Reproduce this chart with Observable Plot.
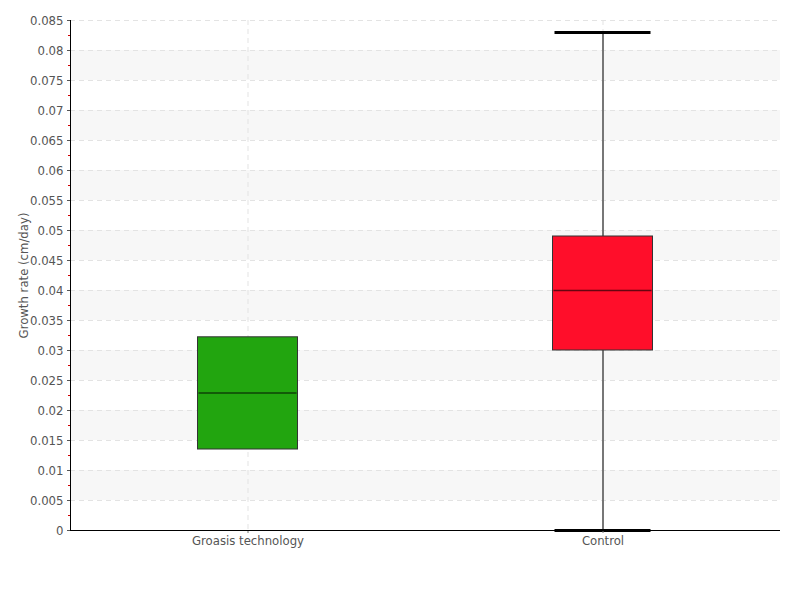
<!DOCTYPE html>
<html><head><meta charset="utf-8">
<script src="https://cdn.jsdelivr.net/npm/d3@7"></script>
<script src="https://cdn.jsdelivr.net/npm/@observablehq/plot@0.6"></script>
<style>
body{margin:0;background:#fff;}
svg{font-family:"DejaVu Sans Condensed","DejaVu Sans",sans-serif;}
</style></head>
<body><div id="chart"></div>
<script>
const categories = ["Groasis technology", "Control"];
const q1 = [0.0135, 0.030];
const median = [0.0229, 0.040];
const q3 = [0.0322, 0.049];
const whiskerLow = [null, 0];
const whiskerHigh = [null, 0.083];
const colors = ["#22a50f", "#ff0e2a"];
const yTicks = d3.range(0, 18).map(i => +(i * 0.005).toFixed(3));
const yMinor = d3.range(0, 17).map(i => +(i * 0.005 + 0.0025).toFixed(4));
const bandLows = [0.005, 0.015, 0.025, 0.035, 0.045, 0.055, 0.065, 0.075];

const boxes = categories.map((c, i) => ({c, q1: q1[i], med: median[i], q3: q3[i], lo: whiskerLow[i], hi: whiskerHigh[i], color: colors[i]}));
const whiskers = boxes.filter(d => d.lo != null);

const step = 710 / 2;
const boxInset = (step - 100) / 2;
const capInset = (step - 96) / 2;

const chart = Plot.plot({
  width: 800, height: 600,
  marginLeft: 70, marginRight: 20, marginTop: 20, marginBottom: 70,
  style: {fontSize: "13px", color: "#555", fontFamily: "'DejaVu Sans Condensed','DejaVu Sans',sans-serif"},
  x: {type: "band", domain: categories, padding: 0, label: null},
  y: {domain: [0, 0.085], label: null},
  color: {type: "identity"},
  marks: [
    Plot.rectY(bandLows, {y1: d => d, y2: d => +(d + 0.005).toFixed(3), fill: "#f7f7f7"}),
    Plot.ruleY(yTicks, {stroke: "#e3e3e3", strokeDasharray: "5,4"}),
    Plot.ruleX(categories, {x: d => d, stroke: "#e3e3e3", strokeDasharray: "5,4"}),
    Plot.ruleX(whiskers, {x: "c", y1: "lo", y2: "hi", stroke: "#777", strokeWidth: 2}),
    Plot.tickY(whiskers, {x: "c", y: "hi", stroke: "black", strokeWidth: 3, inset: capInset}),
    Plot.tickY(whiskers, {x: "c", y: "lo", stroke: "black", strokeWidth: 3, inset: capInset}),
    Plot.barY(boxes, {x: "c", y1: "q1", y2: "q3", fill: d => d.color, stroke: "#333", strokeWidth: 1, insetLeft: boxInset, insetRight: boxInset}),
    Plot.tickY(boxes, {x: "c", y: "med", stroke: "black", strokeOpacity: 0.6, strokeWidth: 1.5, inset: boxInset + 1}),
    Plot.axisY(yMinor, {tickSize: 2, stroke: "#d00000", tickFormat: () => "", label: null}),
    Plot.axisY(yTicks, {tickSize: 3, tickPadding: 4, tickFormat: d => String(d), fill: "#555", label: "Growth rate (cm/day)", labelAnchor: "center", labelOffset: 52, labelArrow: "none"}),
    Plot.axisX({tickSize: 3, tickPadding: 2, stroke: "#777", fill: "#555", label: null}),
    Plot.frame({anchor: "left", stroke: "black"}),
    Plot.ruleY([0], {stroke: "black"})
  ]
});
document.getElementById("chart").appendChild(chart);
</script>
</body></html>
